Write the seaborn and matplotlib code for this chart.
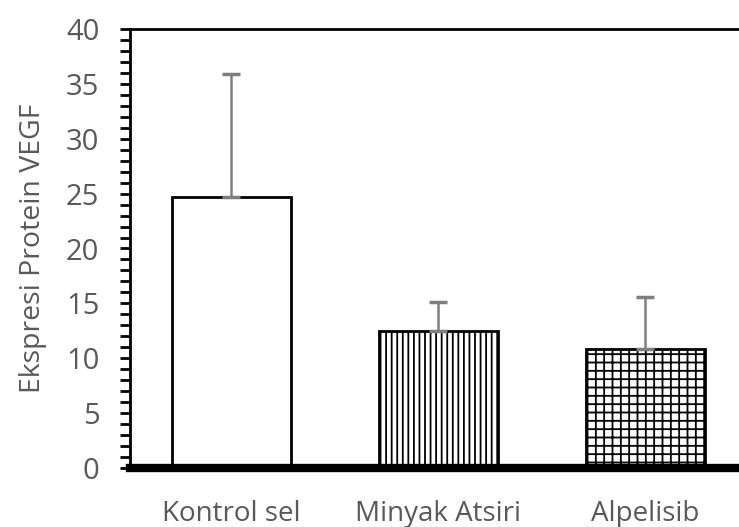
import matplotlib
matplotlib.use("Agg", force=True)
import matplotlib.pyplot as plt
import pandas as pd
import seaborn as sns
from matplotlib.ticker import MultipleLocator

groups = ["Kontrol sel", "Minyak Atsiri", "Alpelisib"]
means = [24.7, 12.5, 10.8]
sd_upper = [11.2, 2.65, 4.8]
hatches = ["", "|||", "++"]

GREY = "#595959"


def main() -> None:
    sns.set_style("white")
    plt.rcParams["font.family"] = ["Open Sans", "DejaVu Sans"]
    plt.rcParams["hatch.linewidth"] = 1.3

    df = pd.DataFrame({"group": groups, "value": means})

    fig = plt.figure(figsize=(7.39, 5.27), dpi=100)
    ax = fig.add_axes([130 / 739, (527 - 468) / 527, (739 - 130) / 739, (468 - 29) / 527])

    sns.barplot(data=df, x="group", y="value", color="white", width=0.575,
                edgecolor="black", linewidth=2, errorbar=None, ax=ax)
    for patch, h in zip(ax.patches, hatches):
        patch.set_hatch(h)

    ax.errorbar(range(len(groups)), means, yerr=[[0] * len(groups), sd_upper],
                fmt="none", ecolor="#7f7f7f", elinewidth=1.8, capsize=6.5, capthick=2.5, zorder=1)

    ax.set_xlim(-0.488, 2.454)
    ax.set_ylim(0, 40)
    ax.yaxis.set_major_locator(MultipleLocator(5))
    ax.yaxis.set_minor_locator(MultipleLocator(1))
    ax.tick_params(axis="y", which="both", direction="out", length=7, width=2, color="black",
                   left=True, labelsize=21, labelcolor=GREY, pad=15)
    ax.tick_params(axis="x", length=0, labelsize=20, labelcolor=GREY, pad=23)

    ax.set_xlabel("")
    ax.set_ylabel("Ekspresi Protein VEGF", fontsize=20.5, color=GREY, labelpad=14)

    for side in ["top", "left"]:
        ax.spines[side].set_visible(True)
        ax.spines[side].set_color("black")
        ax.spines[side].set_linewidth(2)
    ax.spines["bottom"].set_color("black")
    ax.spines["bottom"].set_linewidth(6)
    ax.spines["right"].set_visible(False)

    fig.savefig("out.png", dpi=100)
    plt.close(fig)


if __name__ == "__main__":
    main()
